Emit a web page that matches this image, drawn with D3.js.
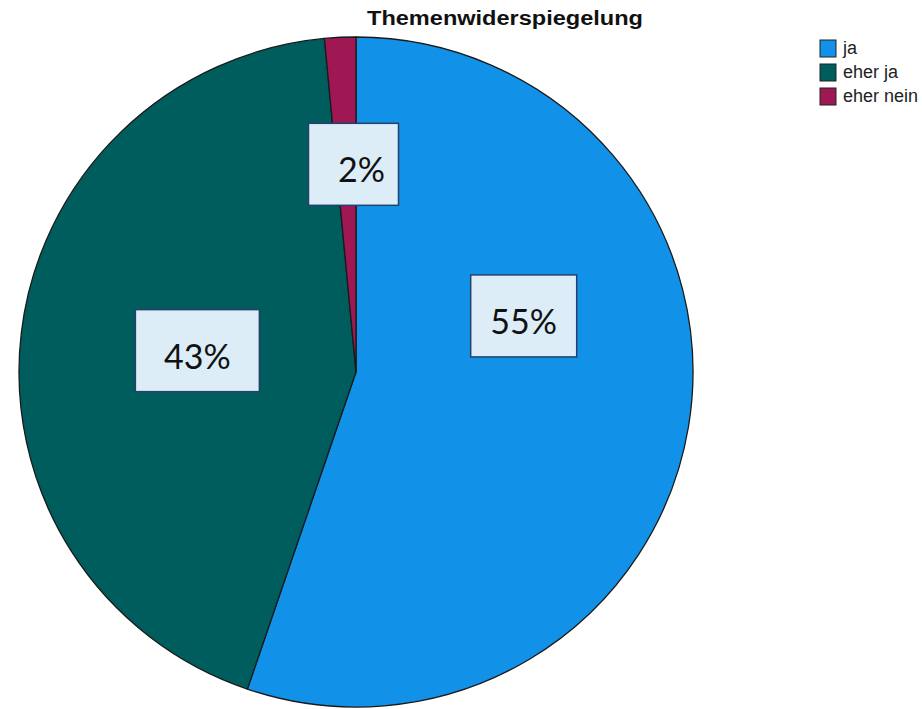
<!DOCTYPE html>
<html>
<head>
<meta charset="utf-8">
<script src="https://cdn.jsdelivr.net/npm/d3@7/dist/d3.min.js"></script>
<style>
  html, body { margin: 0; padding: 0; background: #fff; }
  svg { display: block; }
</style>
</head>
<body>
<svg id="chart" width="922" height="709"></svg>
<script>
// ---- data ----
const categories = ["ja", "eher ja", "eher nein"];
const counts = [37, 29, 1];
const percentLabels = ["55%", "43%", "2%"];
const colors = ["#1192e8", "#005d5d", "#9f1853"];
const title = "Themenwiderspiegelung";

// ---- layout / style ----
const W = 922, H = 709;
const cx = 356, cy = 372, rx = 337, ry = 335;
const labelAngleShift = [-28, 1, 2];      // degrees
const labelRadiusFrac = [0.525, 0.475, 0.62];
const boxWidths = [106, 124, 90];
const boxHeight = 82;
const textDx = [0, 0, 8];

const svg = d3.select("#chart");

const pie = d3.pie().sort(null).value(d => d)(counts);
const arc = d3.arc().innerRadius(0).outerRadius(rx);

const g = svg.append("g")
  .attr("transform", `translate(${cx},${cy}) scale(1,${ry / rx})`);

g.selectAll("path.slice")
  .data(pie)
  .enter().append("path")
  .attr("class", "slice")
  .attr("d", arc)
  .attr("fill", (d, i) => colors[i])
  .attr("stroke", "#1a1a1a")
  .attr("stroke-width", 1.3)
  .attr("stroke-linejoin", "round");

// labels
const labels = svg.append("g");
pie.forEach((d, i) => {
  const mid = (d.startAngle + d.endAngle) / 2 + labelAngleShift[i] * Math.PI / 180;
  const r = labelRadiusFrac[i] * rx;
  const x = cx + Math.sin(mid) * r;
  const y = cy - Math.cos(mid) * r * (ry / rx);
  const bw = boxWidths[i];
  labels.append("rect")
    .attr("x", x - bw / 2)
    .attr("y", y - boxHeight / 2)
    .attr("width", bw)
    .attr("height", boxHeight)
    .attr("fill", "#dcedf8")
    .attr("stroke", "#23416b")
    .attr("stroke-width", 1.5);
  labels.append("text")
    .attr("x", x + textDx[i])
    .attr("y", y + 18)
    .attr("text-anchor", "middle")
    .attr("font-family", "Lato, 'Open Sans', sans-serif")
    .attr("font-size", 34)
    .attr("fill", "#111")
    .text(percentLabels[i]);
});

// title
svg.append("text")
  .attr("x", 505)
  .attr("y", 25)
  .attr("text-anchor", "middle")
  .attr("font-family", "'Liberation Sans', Arial, sans-serif")
  .attr("font-weight", "bold")
  .attr("font-size", 20)
  .attr("textLength", 276)
  .attr("lengthAdjust", "spacingAndGlyphs")
  .attr("fill", "#111")
  .text(title);

// legend
const legend = svg.append("g").attr("transform", "translate(820,40)");
const lg = legend.selectAll("g")
  .data(categories)
  .enter().append("g")
  .attr("transform", (d, i) => `translate(0,${i * 24})`);
lg.append("rect")
  .attr("width", 16)
  .attr("height", 17)
  .attr("fill", (d, i) => colors[i])
  .attr("stroke", "#222")
  .attr("stroke-width", 1);
lg.append("text")
  .attr("x", 23)
  .attr("y", 14)
  .attr("font-family", "'Liberation Sans', Arial, sans-serif")
  .attr("font-size", 18)
  .attr("fill", "#222")
  .text(d => d);
</script>
</body>
</html>
